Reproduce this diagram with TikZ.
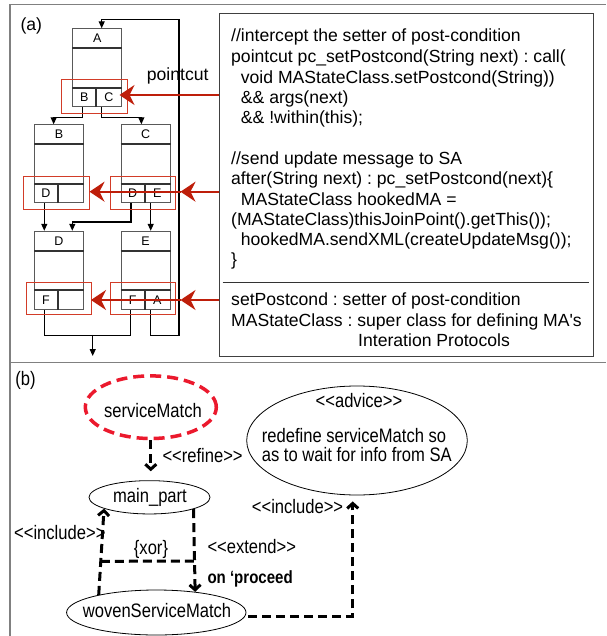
\documentclass[tikz,border=0pt]{standalone}
\usepackage{fontspec}
\usetikzlibrary{arrows.meta,calc,shapes.geometric}
\newfontfamily\af{Liberation Sans}
\newfontfamily\afb{Liberation Sans}[FakeStretch=0.85]
\definecolor{redarrc}{RGB}{190,30,10}
\definecolor{redthin}{RGB}{210,60,40}
\definecolor{reddash}{RGB}{235,25,45}
\tikzset{
  frameln/.style={draw=black!50, line width=1.6pt},
  clsbox/.style={draw=black!65, fill=white, line width=0.9pt, rectangle, inner sep=0pt, minimum width=49pt, minimum height=78pt},
  divln/.style={draw=black!80, line width=1.8pt},
  boxtxt/.style={font=\af\fontsize{12.5}{14}\selectfont, inner sep=0pt},
  redbox/.style={draw=redthin, line width=1pt, rectangle, inner sep=0pt},
  redarr/.style={draw=redarrc, line width=2pt, -{Stealth[length=15pt,width=20pt,inset=5pt]}},
  blk/.style={draw=black, line width=1.2pt, -{Triangle[length=7pt,width=6pt]}},
  ln/.style={draw=black, line width=1.2pt},
  codetxt/.style={font=\af\fontsize{17.6}{20.5}\selectfont, inner sep=0pt, anchor=base west},
  btxt/.style={font=\afb\fontsize{19.5}{21}\selectfont, inner sep=0pt},
  ucase/.style={ellipse, draw=black, line width=0.8pt, inner sep=0pt},
  dasharr/.style={draw=black, line width=3pt, dash pattern=on 9pt off 5pt, -{Straight Barb[length=5pt,width=11pt]}},
  dashln/.style={draw=black, line width=3pt, dash pattern=on 9pt off 5pt},
}
\newcommand\umlbox[6]{%
  \node[clsbox, anchor=north west] (#1) at (#2,#3) {};
  \draw[divln] ([yshift=-20pt]#1.north west) -- ([yshift=-20pt]#1.north east);
  \draw[divln] ([yshift=19.5pt]#1.south west) -- ([yshift=19.5pt]#1.south east);
  \draw[divln] ([xshift=24pt]#1.south west) -- ([xshift=24pt,yshift=19.5pt]#1.south west);
  \node[boxtxt] (#1-h) at ([yshift=-10pt]#1.north) {#4};
  \node[boxtxt] (#1-l) at ([xshift=12pt,yshift=9.75pt]#1.south west) {#5};
  \node[boxtxt] (#1-r) at ([xshift=36.5pt,yshift=9.75pt]#1.south west) {#6};
}
\newcommand\dlt{<\kern0pt<}
\newcommand\dgt{>\kern0pt>}
\frenchspacing
\begin{document}
\begin{tikzpicture}[x=1pt,y=-1pt]
\useasboundingbox (0,0) rectangle (606,636);
% frame
\draw[frameln] (10,636) -- (10,4.5) -- (606,4.5);
\draw[frameln] (10,362.5) -- (606,362.5);

% ---------- (a) ----------
\node[font=\af\fontsize{17.6}{20}\selectfont, inner sep=0pt] (la) at (31.3,26) {(a)};
\node[font=\af\fontsize{17.6}{20}\selectfont, inner sep=0pt, anchor=base west] (pc) at (146.7,80.5) {pointcut};

\umlbox{A}{72.3}{28.3}{A}{B}{C}
\umlbox{B}{34}{124.3}{B}{D}{}
\umlbox{C}{120.7}{124.3}{C}{D}{E}
\umlbox{D}{34}{230.8}{D}{F}{}
\umlbox{E}{120.7}{230.8}{E}{F}{A}

% connectors between class boxes
\draw[blk] ([xshift=10.4pt]A.south west) -- ++(0,10) -| ([xshift=-5.3pt]B.north);
\draw[blk] ([xshift=29.4pt]A.south west) -- ++(0,10) -| ([xshift=-4.3pt]C.north);
\draw[blk] ([xshift=10.3pt]B.south west) -- ([xshift=10.3pt]D.north west);
\draw[blk] ([xshift=10.3pt]C.south west) -- ++(0,18.7) -| ([xshift=38.3pt]D.north west);
\draw[blk] ([xshift=30pt]C.south west) -- ([xshift=30pt]E.north west);
\draw[ln] ([xshift=10.3pt]D.south west) -- ++(0,25.7) -| ([xshift=10pt]E.south west);
\coordinate (bus) at (92.7,334.8);
\coordinate (out) at (92.7,356);
\draw[blk] (bus) -- (out);
\coordinate (loopR) at (179,19.3);
\draw[blk] ([xshift=30pt]E.south west) -- ++(0,25.7) -| (loopR) -| ([xshift=29.4pt]A.north west);

% red boxes
\node[redbox, anchor=north west, minimum width=65.7pt, minimum height=34pt] (rA) at (61,79.3) {};
\node[redbox, anchor=north west, minimum width=66pt, minimum height=33.6pt] (rB) at (23.3,175.7) {};
\node[redbox, anchor=north west, minimum width=65pt, minimum height=33.6pt] (rC) at (110,175.7) {};
\node[redbox, anchor=north west, minimum width=65pt, minimum height=32.6pt] (rD) at (26,281.7) {};
\node[redbox, anchor=north west, minimum width=65pt, minimum height=32.6pt] (rE) at (110,281.7) {};

% code box
\node[draw=black!75, line width=1pt, rectangle, anchor=north west, minimum width=374pt, minimum height=342.5pt, inner sep=0pt] (code) at (219,13.5) {};
\draw[draw=black!80, line width=0.9pt] (222.7,282.7) -- (589,282.7);
\node[codetxt] (c1) at (231,42) {//intercept the setter of post-condition};
\node[codetxt] (c2) at (231,62.7) {pointcut pc\_setPostcond(String next) : call(};
\node[codetxt] (c3) at (240.7,83.5) {void MAStateClass.setPostcond(String))};
\node[codetxt] (c4) at (240.7,104) {\&\& args(next)};
\node[codetxt] (c5) at (240.7,124) {\&\& !within(this);};
\node[codetxt] (c6) at (231,164.5) {//send update message to SA};
\node[codetxt] (c7) at (231,185) {after(String next) : pc\_setPostcond(next)\{};
\node[codetxt] (c8) at (240.7,205) {MAStateClass hookedMA =};
\node[codetxt] (c9) at (231,225.5) {(MAStateClass)thisJoinPoint().getThis());};
\node[codetxt] (c10) at (240.7,245.5) {hookedMA.sendXML(createUpdateMsg());};
\node[codetxt] (c11) at (231,265.5) {\}};
\node[codetxt] (c12) at (231,305.5) {setPostcond : setter of post-condition};
\node[codetxt] (c13) at (231,326) {MAStateClass : super class for defining MA's};
\node[codetxt] (c14) at (358,346) {Interation Protocols};

% red arrows
\coordinate (tA) at (119.5,95);
\coordinate (tC) at (180.5,191.7);
\coordinate (tB) at (89.5,191.7);
\coordinate (tE) at (180.5,300);
\coordinate (tD) at (91,300);
\draw[redarr] (code.west |- tA) -- (tA);
\draw[redarr] (code.west |- tC) -- (tC);
\draw[redarr] (tC) -- (tB);
\draw[redarr] (code.west |- tE) -- (tE);
\draw[redarr] (tE) -- (tD);

% ---------- (b) ----------
\node[btxt] (lb) at (25.5,380.7) {(b)};
\node[ucase, draw=reddash, line width=3.5pt, dash pattern=on 11pt off 6pt, minimum width=131pt, minimum height=62.6pt] (sm) at (150.8,407.2) {};
\node[btxt] (smt) at (153,410.8) {serviceMatch};
\node[ucase, minimum width=121pt, minimum height=33.3pt] (mp) at (149.5,497.3) {};
\node[btxt] (mpt) at (150,497) {main\_part};
\node[ucase, minimum width=220.6pt, minimum height=109pt] (adv) at (357,440.5) {};
\node[btxt] (advt) at (359,400.7) {\dlt advice\dgt};
\node[btxt, anchor=base west] (adv1) at (261.7,442) {redefine serviceMatch so};
\node[btxt, anchor=base west] (adv2) at (261.7,461) {as to wait for info from SA};
\node[ucase, minimum width=179.4pt, minimum height=45pt] (wv) at (156.3,612.5) {};
\node[btxt] (wvt) at (157,610.5) {wovenServiceMatch};

\draw[dasharr, shorten >=9pt] (sm.south) -- (sm.south |- mp.north);
\node[btxt, anchor=west] (lref) at (162.3,455.7) {\dlt refine\dgt};

\draw[dasharr] (wv.163) -- (mp.194);
\draw[dasharr] (mp.-15) -- (wv.28);
\coordinate (xl) at ($(wv.163)!0.39!(mp.194)$);
\coordinate (xr) at ($(mp.-15)!0.63!(wv.28)$);
\draw[dashln] (xl) -- (xr);
\node[btxt] (xor) at (151,549) {\{xor\}};
\node[btxt, anchor=west] (linc1) at (14,532.7) {\dlt include\dgt};
\node[btxt, anchor=west] (lext) at (207.3,546.7) {\dlt extend\dgt};
\node[btxt, anchor=base west, font=\afb\bfseries\fontsize{17.7}{20}\selectfont] (lpro) at (207.3,583.5) {on ‘proceed};

\draw[dasharr, shorten >=6pt] ([xshift=2pt,yshift=-3.5pt]wv.east) -| ([xshift=-4.3pt]adv.south);
\node[btxt, anchor=west] (linc2) at (251.7,506.7) {\dlt include\dgt};
\end{tikzpicture}
\end{document}
